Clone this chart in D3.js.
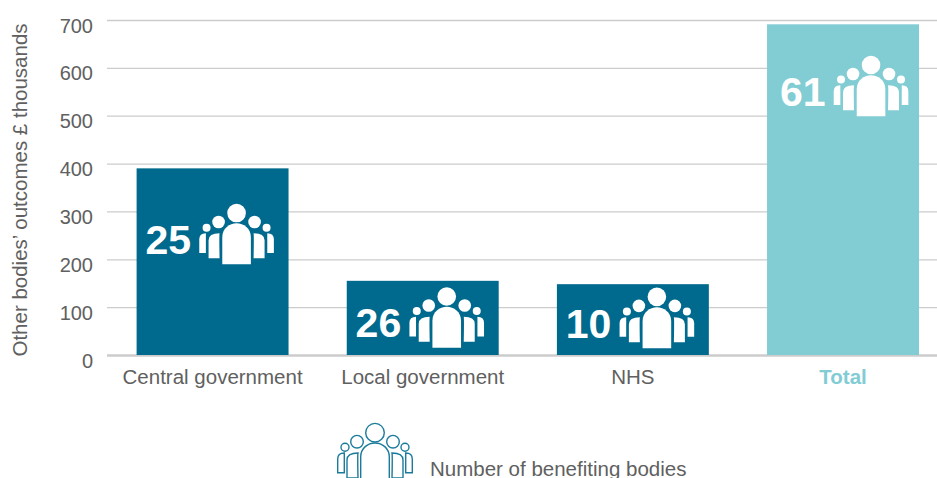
<!DOCTYPE html>
<html>
<head>
<meta charset="utf-8">
<script src="https://cdn.jsdelivr.net/npm/d3@7"></script>
<style>
  html, body { margin: 0; padding: 0; background: #fff; overflow: hidden; }
  text { font-family: "Liberation Sans", sans-serif; }
</style>
</head>
<body>
<svg id="chart" width="937" height="478"></svg>
<script>
const categories = ["Central government", "Local government", "NHS", "Total"];
const outcomes = [390, 155, 148, 691];
const bodies = [25, 26, 10, 61];
const yTicks = [0, 100, 200, 300, 400, 500, 600, 700];

const textColor = "#606060";
const gridColor = "#cccccc";
const darkBar = "#006a8e";
const lightBar = "#82ccd4";

const svg = d3.select("#chart");

const x = d3.scaleBand().domain(categories).range([107.6, 948]).paddingInner(0.277).paddingOuter(0.138);
const y = d3.scaleLinear().domain([0, 700]).range([355, 20]);

// value axis, gridlines are the tick lines
const yAxis = d3.axisLeft(y).tickValues(yTicks).tickSize(0).tickPadding(14);
const yAxisG = svg.append("g").attr("transform", "translate(107,0)").call(yAxis);
yAxisG.select(".domain").remove();
yAxisG.selectAll(".tick text")
  .attr("font-size", 20).attr("fill", textColor).attr("dy", "0.6em")
  .style("font-family", "Liberation Sans");
yAxisG.selectAll(".tick line")
  .attr("x2", 830)
  .attr("stroke", gridColor)
  .attr("stroke-width", d => d === 0 ? 2.5 : 1.3);

const xAxis = d3.axisBottom(x).tickSize(0).tickPadding(14);
const xAxisG = svg.append("g").attr("transform", "translate(0,355)").call(xAxis);
xAxisG.select(".domain").remove();
xAxisG.selectAll(".tick text")
  .attr("font-size", 20.5)
  .attr("fill", d => d === "Total" ? lightBar : textColor)
  .attr("font-weight", d => d === "Total" ? 700 : 400)
  .style("font-family", "Liberation Sans");

svg.append("text")
  .attr("transform", "translate(27,190) rotate(-90)")
  .attr("text-anchor", "middle")
  .attr("font-size", 20.5)
  .attr("fill", textColor)
  .text("Other bodies\u2019 outcomes \u00a3 thousands");

svg.selectAll("rect.bar")
  .data(categories)
  .join("rect")
  .attr("class", "bar")
  .attr("x", d => x(d))
  .attr("width", x.bandwidth())
  .attr("y", (d, i) => y(outcomes[i]))
  .attr("height", (d, i) => y(0) - y(outcomes[i]))
  .attr("fill", d => d === "Total" ? lightBar : darkBar);

// people icon, drawn around its own centre
function drawPeople(g) {
  [-1, 1].forEach(side => {
    g.append("circle").attr("cx", side * 30).attr("cy", -6.7).attr("r", 4);
    g.append("path").attr("d", `M${side * 37.3},18.7V5Q${side * 37.3},-1 ${side * 30.7},-1V18.7Z`);
    g.append("circle").attr("cx", side * 18).attr("cy", -12.3).attr("r", 6.3);
    g.append("path").attr("d", `M${side * 28},24V6Q${side * 28},-1 ${side * 17},-1Q${side * 17.5},1 ${side * 17},24Z`);
  });
  g.append("circle").attr("cx", 0).attr("cy", -21.3).attr("r", 9.3);
  g.append("path").attr("d", "M-14.3,30V3C-14.3,-6 -7,-11 0,-11C7,-11 14.3,-6 14.3,3V30Z");
}

// distance from bar top to icon centre, and gap from bar centre
const iconDrop = [66, 37, 34, 62];
const iconShift = [24, 24, 24, 28];

const badges = svg.selectAll("g.badge")
  .data(categories)
  .join("g")
  .attr("class", "badge")
  .attr("transform", (d, i) => `translate(${x(d) + x.bandwidth() / 2 + iconShift[i]},${y(outcomes[i]) + iconDrop[i]})`);

badges.append("g").attr("fill", "#fff").each(function () { drawPeople(d3.select(this)); });

badges.append("text")
  .attr("x", -45.5)
  .attr("y", 19.5)
  .attr("text-anchor", "end")
  .attr("font-size", 41)
  .attr("font-weight", 700)
  .attr("fill", "#fff")
  .text((d, i) => bodies[i]);

// legend
const legend = svg.append("g").attr("transform", "translate(375,454)");
legend.append("g")
  .attr("fill", "#fff")
  .attr("stroke", "#1b7b9b")
  .attr("stroke-width", 1.4)
  .call(drawPeople);

svg.append("text")
  .attr("x", 430)
  .attr("y", 476)
  .attr("font-size", 20.5)
  .attr("fill", textColor)
  .text("Number of benefiting bodies");
</script>
</body>
</html>
